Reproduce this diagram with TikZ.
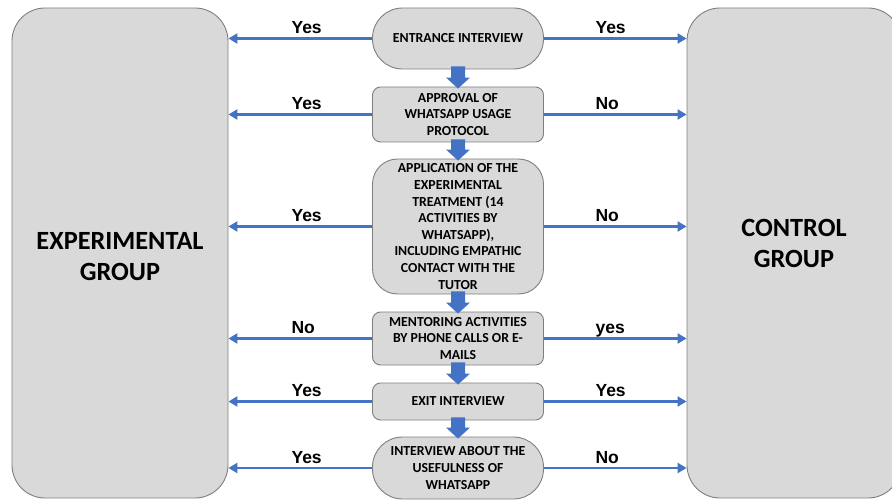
\documentclass[tikz,border=0pt]{standalone}
\usepackage{fontspec}
\setmainfont{Carlito}
\newfontfamily\labfont{Liberation Sans}
\usetikzlibrary{calc,arrows.meta}
\definecolor{boxfill}{HTML}{D9D9D9}
\definecolor{boxdraw}{HTML}{7F7F7F}
\definecolor{arrowblue}{HTML}{4472C4}
\newcommand{\fatarrow}[2]{%
  \fill[arrowblue] ($(#1.south)+(-7,-3)$) -- ($(#2.north)+(-7,-9)$) -- ($(#2.north)+(-12,-9)$)
    -- ($(#2.north)+(0,2)$) -- ($(#2.north)+(12,-9)$) -- ($(#2.north)+(7,-9)$)
    -- ($(#1.south)+(7,-3)$) -- cycle;}
\begin{document}
\begin{tikzpicture}[x=1pt,y=-1pt,
  box/.style={draw=boxdraw, fill=boxfill, line width=0.9pt, minimum width=171pt, inner sep=0pt,
    align=center, font=\bfseries\fontsize{13.8}{16.6}\selectfont},
  big/.style={draw=boxdraw, fill=boxfill, line width=0.9pt, rounded corners=33pt,
    minimum width=216pt, minimum height=490pt, inner sep=0pt},
  bigtext/.style={font=\bfseries\fontsize{26.3}{31}\selectfont, align=center},
  hline/.style={draw=arrowblue, line width=2.6pt, -{Triangle[length=9pt,width=10pt]}},
  labl/.style={font=\labfont\bfseries\fontsize{17.5}{20}\selectfont, anchor=base west,
    yshift=5pt, xshift=-10pt, inner sep=0pt},
  labr/.style={labl, xshift=-11pt}]
\useasboundingbox (0,0) rectangle (892,500);
\clip (0,0) rectangle (892,500);
% big group boxes
\node[big] (L) at (120,253) {};
\node[big, minimum width=214pt] (R) at (794,253) {};
\node[bigtext] (Lt) at (120,257) {EXPERIMENTAL\\GROUP};
\node[bigtext] (Rt) at (794,243) {CONTROL\\GROUP};
% central steps
\node[box, minimum height=61pt, rounded corners=30pt] (b1) at (458,38.5) {ENTRANCE INTERVIEW};
\node[box, minimum height=55pt, rounded corners=8pt] (b2) at (458,114.5) {APPROVAL OF\\WHATSAPP USAGE\\PROTOCOL};
\node[box, minimum height=135pt, rounded corners=25pt] (b3) at (458,226.5) {APPLICATION OF THE\\EXPERIMENTAL\\TREATMENT (14\\ACTIVITIES BY\\WHATSAPP),\\INCLUDING EMPATHIC\\CONTACT WITH THE\\TUTOR};
\node[box, minimum height=53pt, rounded corners=8pt] (b4) at (458,338.5) {MENTORING ACTIVITIES\\BY PHONE CALLS OR E-\\MAILS};
\node[box, minimum height=37pt, rounded corners=8pt] (b5) at (458,401.5) {EXIT INTERVIEW};
\node[box, minimum height=62pt, rounded corners=30pt] (b6) at (458,468) {INTERVIEW ABOUT THE\\USEFULNESS OF\\WHATSAPP};
% block arrows
\fatarrow{b1}{b2}
\fatarrow{b2}{b3}
\fatarrow{b3}{b4}
\fatarrow{b4}{b5}
\fatarrow{b5}{b6}
% horizontal arrows
\draw[hline] (b1.west) -- node[labl] {Yes} (b1.west -| L.east);
\draw[hline] (b1.east) -- node[labr] {Yes} (b1.east -| R.west);
\draw[hline] (b2.west) -- node[labl] {Yes} (b2.west -| L.east);
\draw[hline] (b2.east) -- node[labr] {No} (b2.east -| R.west);
\draw[hline] (b3.west) -- node[labl] {Yes} (b3.west -| L.east);
\draw[hline] (b3.east) -- node[labr] {No} (b3.east -| R.west);
\draw[hline] (b4.west) -- node[labl] {No} (b4.west -| L.east);
\draw[hline] (b4.east) -- node[labr] {yes} (b4.east -| R.west);
\draw[hline] (b5.west) -- node[labl] {Yes} (b5.west -| L.east);
\draw[hline] (b5.east) -- node[labr] {Yes} (b5.east -| R.west);
\draw[hline] (b6.west) -- node[labl] {Yes} (b6.west -| L.east);
\draw[hline] (b6.east) -- node[labr] {No} (b6.east -| R.west);
\end{tikzpicture}
\end{document}
